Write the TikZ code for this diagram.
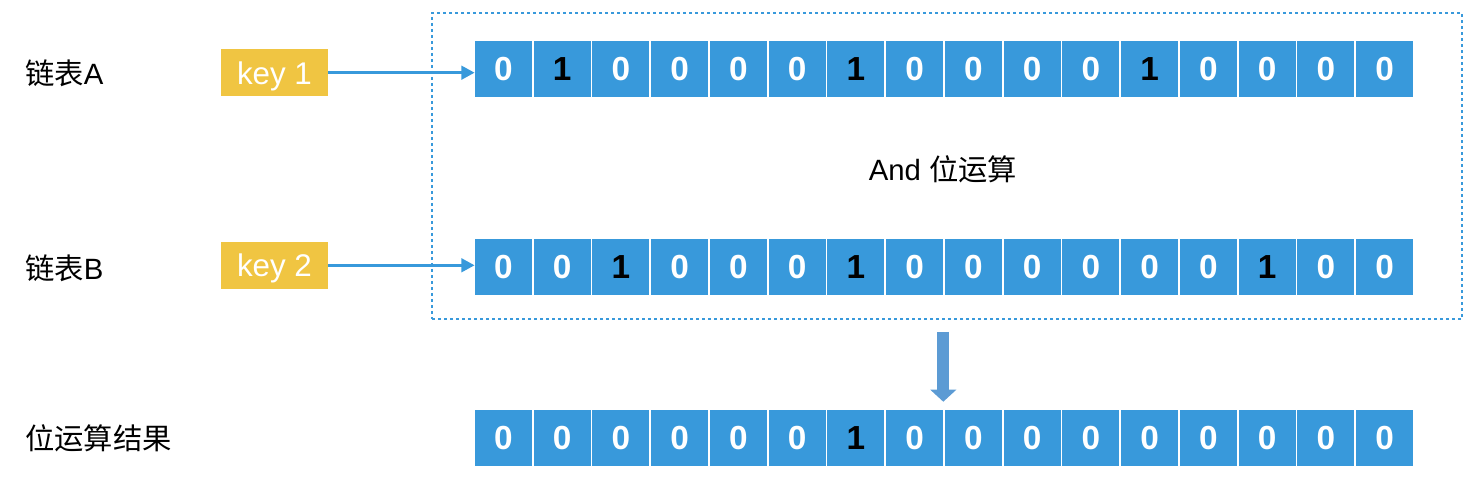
\documentclass[tikz,border=0pt]{standalone}
\usepackage{fontspec}
\setmainfont{Liberation Sans}
\newfontfamily\cjk{Noto Sans CJK SC}
\usepackage{xcolor}
\usetikzlibrary{arrows.meta}
\usetikzlibrary{calc}

\definecolor{cellblue}{RGB}{56,153,219}
\definecolor{keyyellow}{RGB}{240,197,66}
\definecolor{arrowblue}{RGB}{92,155,212}

\begin{document}
\begin{tikzpicture}[x=0.75pt, y=-0.75pt,
  cell/.style={fill=cellblue, minimum width=42.6pt, minimum height=42pt, inner sep=0pt, font=\fontsize{25}{25}\selectfont\bfseries},
  bit0/.style={text=white},
  bit1/.style={text=black},
  keybox/.style={fill=keyyellow, text=white, minimum width=80.25pt, minimum height=35.25pt, inner sep=0pt, text depth=0pt, font=\fontsize{23.5}{24}\selectfont},
  rowlabel/.style={anchor=west, inner sep=0pt, font=\fontsize{22}{22}\selectfont},
  andbox/.style={draw=cellblue, line width=1.5pt, dash pattern=on 2.25pt off 2.25pt, minimum width=772.5pt, minimum height=229.5pt, inner sep=0pt},
  link/.style={draw=cellblue, line width=2.5pt, -{Triangle[width=10pt,length=10pt]}},
  bigarrow/.style={draw=arrowblue, line width=9pt, -{Triangle[width=19pt,length=9pt]}}
]

\useasboundingbox (0,0) rectangle (1483,498);

% dashed frame round the two inputs
\node[andbox] (andbox) at (947,166) {};
\node[rowlabel, anchor=center] (op) at (943,169) {And {\cjk 位运算}};

% row labels
\node[rowlabel] (la) at (25,73)  {{\cjk 链表}A};
\node[rowlabel] (lb) at (25,268) {{\cjk 链表}B};
\node[rowlabel] (lc) at (25,438) {\cjk 位运算结果};

% keys
\node[keybox] (k1) at (274.5,72.7) {key 1};
\node[keybox] (k2) at (274.5,265.3) {key 2};

% bit rows
\foreach \b [count=\i] in {0,1,0,0,0,0,1,0,0,0,0,1,0,0,0,0}
  \node[cell, bit\b] (a\i) at ({474+58.75*(\i-0.5)},69) {\b};
\foreach \b [count=\i] in {0,0,1,0,0,0,1,0,0,0,0,0,0,1,0,0}
  \node[cell, bit\b] (b\i) at ({474+58.75*(\i-0.5)},267.5) {\b};
\foreach \b [count=\i] in {0,0,0,0,0,0,1,0,0,0,0,0,0,0,0,0}
  \node[cell, bit\b] (c\i) at ({474+58.75*(\i-0.5)},438) {\b};

% arrows
\draw[link] (k1.east) -- (k1.east -| a1.west);
\draw[link] (k2.east) -- (k2.east -| b1.west);
\draw[bigarrow] ($(c8.north east |- andbox.south)+(0,12)$) -- ($(c8.north east)+(0,-8)$);

\end{tikzpicture}
\end{document}
